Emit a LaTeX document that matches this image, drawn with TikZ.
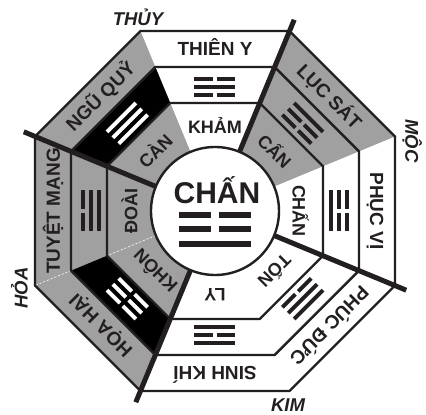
\documentclass[tikz,border=0pt]{standalone}
\usepackage{fontspec}
\setmainfont{Liberation Sans}
\definecolor{sec}{RGB}{160,160,160}
\definecolor{ink}{RGB}{35,31,32}
\newcommand\yaobar[3]{%
  \ifnum#2=1
    \fill[#3] (-20.5,#1-1.9) rectangle (20.5,#1+1.9);
  \else
    \fill[#3] (-20.5,#1-1.9) rectangle (-2,#1+1.9);
    \fill[#3] (2,#1-1.9) rectangle (20.5,#1+1.9);
  \fi}
\newcommand\trigr[6]{%
  \begin{scope}[shift={(#1:124)},rotate=#1-90]
    \yaobar{-8.3}{#2}{#5}\yaobar{0}{#3}{#5}\yaobar{8.3}{#4}{#5}
  \end{scope}}
\begin{document}
\begin{tikzpicture}[x=1pt,y=1pt,
  ring/.style={draw=ink,line width=2.4pt,line join=miter},
  divider/.style={draw=ink,line width=5pt},
  outtxt/.style={font=\fontsize{19}{19}\selectfont\bfseries, text=ink, inner sep=0pt, text height=13.6pt, text depth=0pt},
  intxt/.style={font=\fontsize{18}{18}\selectfont\bfseries, text=ink, inner sep=0pt, text height=12.9pt, text depth=0pt},
  elem/.style={font=\fontsize{18.5}{18.5}\selectfont\bfseries\itshape, text=ink, inner sep=0pt, text height=13.2pt, text depth=0pt},
  centxt/.style={font=\fontsize{30}{30}\selectfont\bfseries, text=ink, inner sep=0pt, text height=21.5pt, text depth=0pt}
]
\useasboundingbox (-215,-204) rectangle (211,211);
\fill[white] (-215,-204) rectangle (211,211);
% gray sectors
\foreach \p in {45,135,180,-135} {
  \fill[sec] (\p-22.5:194.83) -- (\p+22.5:194.83) -- (\p+22.5:116.9) -- (\p-22.5:116.9) -- cycle;
  \fill[sec] (\p-22.5:116.9) -- (\p+22.5:116.9) -- (\p+22.5:64) arc[start angle=\p+22.5, end angle=\p-22.5, radius=64] -- cycle;
}
% black middle rings
\foreach \p in {135,-135} {
  \fill[black] (\p-22.5:155.86) -- (\p+22.5:155.86) -- (\p+22.5:116.9) -- (\p-22.5:116.9) -- cycle;
}
% white dashed boundaries
\draw[white,line width=0.6pt,dash pattern=on 2pt off 2pt] (202.5:64) -- (202.5:116.9);
\draw[white,line width=0.6pt,dash pattern=on 2pt off 2pt] (202.5:155.86) -- (202.5:194.83);
% octagons
\foreach \r in {194.83,155.86,116.9} {
  \draw[ring] (22.5:\r) -- (67.5:\r) -- (112.5:\r) -- (157.5:\r) -- (202.5:\r) -- (247.5:\r) -- (292.5:\r) -- (337.5:\r) -- cycle;
}
% center circle
\fill[white] (0,0) circle (64);
\draw[ring] (0,0) circle (64);
% dividers
\foreach \a in {67.5,157.5,247.5,337.5} {
  \draw[divider] (\a:64) -- (\a:207);
}
% outer band names
\node[outtxt,rotate=0] (o1) at (90:162) {THIÊN Y};
\node[outtxt,rotate=-45] (o2) at (45:162) {LỤC SÁT};
\node[outtxt,rotate=-90] (o3) at (0:162) {PHỤC VỊ};
\node[outtxt,rotate=-135] (o4) at (-45:162) {PHÚC ĐỨC};
\node[outtxt,rotate=180] (o5) at (-90:162) {SINH KHÍ};
\node[outtxt,rotate=135] (o6) at (-135:162) {HỌA HẠI};
\node[outtxt,rotate=90] (o7) at (180:162) {TUYỆT MẠNG};
\node[outtxt,rotate=45] (o8) at (135:162) {NGŨ QUỶ};
% inner band names
\node[intxt,rotate=0] (i1) at (90:84) {KHẢM};
\node[intxt,rotate=-45] (i2) at (45:84) {CẤN};
\node[intxt,rotate=-90] (i3) at (0:84) {CHẤN};
\node[intxt,rotate=-135] (i4) at (-45:84) {TỐN};
\node[intxt,rotate=180] (i5) at (-90:84) {LY};
\node[intxt,rotate=135] (i6) at (-135:84) {KHÔN};
\node[intxt,rotate=90] (i7) at (180:84) {ĐOÀI};
\node[intxt,rotate=45] (i8) at (135:84) {CÀN};
% trigrams (bottom, middle, top; bottom toward centre)
\trigr{90}{0}{1}{0}{ink}{}
\trigr{45}{0}{0}{1}{ink}{}
\trigr{0}{1}{0}{0}{ink}{}
\trigr{-45}{0}{1}{1}{ink}{}
\trigr{-90}{1}{0}{1}{ink}{}
\trigr{-135}{0}{0}{0}{white}{}
\trigr{180}{1}{1}{0}{ink}{}
\trigr{135}{1}{1}{1}{white}{}
% centre
\node[centxt] (c) at (2,18.5) {CHẤN};
\fill[ink] (-36,-4-3) rectangle (-4,-4+3);
\fill[ink] (4,-4-3) rectangle (36,-4+3);
\fill[ink] (-36,-18.5-3) rectangle (-4,-18.5+3);
\fill[ink] (4,-18.5-3) rectangle (36,-18.5+3);
\fill[ink] (-36,-33-3) rectangle (36,-33+3);
% element labels
\node[elem] (e1) at (-77,192) {THỦY};
\node[elem,rotate=-90] (e2) at (197,70) {MỘC};
\node[elem] (e3) at (73,-194) {KIM};
\node[elem,rotate=90] (e4) at (-194,-77) {HỎA};
\end{tikzpicture}
\end{document}
